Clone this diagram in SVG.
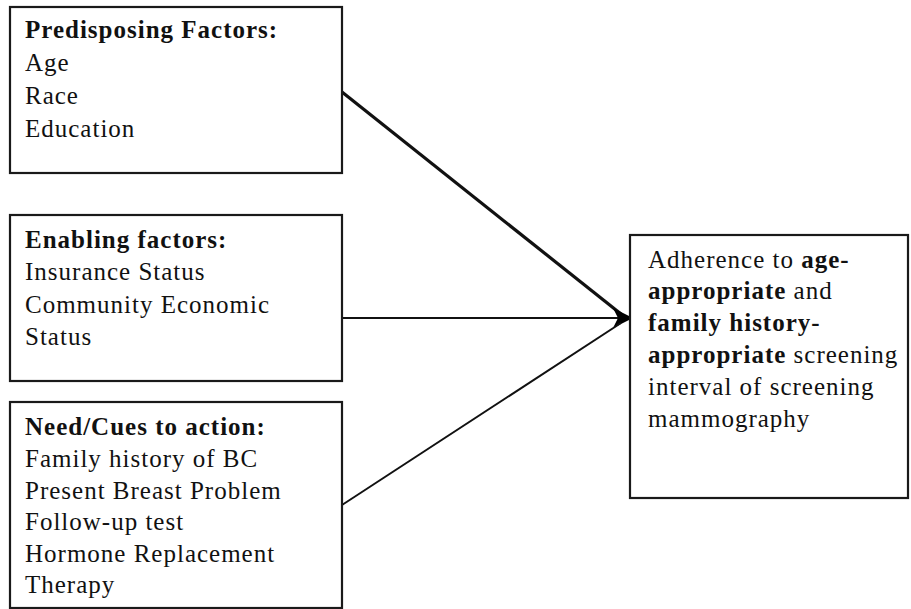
<svg xmlns="http://www.w3.org/2000/svg" width="911" height="609" viewBox="0 0 911 609">
<style>
.box{fill:#fff;stroke:#1a1a1a;stroke-width:2.2}
.t{font-family:"Liberation Serif","Times New Roman",serif;font-size:25px;letter-spacing:1px;fill:#111}
.b{font-weight:bold}
.c{stroke:#111;fill:none}
</style>
<defs>
<marker id="ah" viewBox="0 0 16 20" refX="16" refY="10" markerWidth="16" markerHeight="20" markerUnits="userSpaceOnUse" orient="auto">
<path d="M0,0 L16,8 L16,12 L0,20 L5,10 Z" fill="#000"/>
</marker>
</defs>
<rect width="911" height="609" fill="#fff"/>
<g id="connectors">
<line class="c" x1="342" y1="92" x2="621" y2="314" stroke-width="3.2"/>
<line class="c" x1="342" y1="318" x2="629" y2="318" stroke-width="2" marker-end="url(#ah)"/>
<line class="c" x1="342" y1="505" x2="621" y2="323" stroke-width="2"/>
</g>
<g id="predisposing">
<rect class="box" x="10" y="7" width="332" height="166"/>
<text class="t b" x="25" y="38">Predisposing Factors:</text>
<text class="t" x="25" y="71">Age</text>
<text class="t" x="25" y="104">Race</text>
<text class="t" x="25" y="137">Education</text>
</g>
<g id="enabling">
<rect class="box" x="10" y="215" width="332" height="166"/>
<text class="t b" x="25" y="248">Enabling factors:</text>
<text class="t" x="25" y="280">Insurance Status</text>
<text class="t" x="25" y="313">Community Economic</text>
<text class="t" x="25" y="345">Status</text>
</g>
<g id="need">
<rect class="box" x="10" y="402" width="332" height="206"/>
<text class="t b" x="25" y="435">Need/Cues to action:</text>
<text class="t" x="25" y="467">Family history of BC</text>
<text class="t" x="25" y="499">Present Breast Problem</text>
<text class="t" x="25" y="530">Follow-up test</text>
<text class="t" x="25" y="562">Hormone Replacement</text>
<text class="t" x="25" y="593">Therapy</text>
</g>
<g id="adherence">
<rect class="box" x="630" y="235" width="278" height="263"/>
<text class="t" x="648" y="268">Adherence to <tspan class="b">age-</tspan></text>
<text class="t" x="648" y="299"><tspan class="b">appropriate</tspan> and</text>
<text class="t b" x="648" y="331">family history-</text>
<text class="t" x="648" y="363"><tspan class="b">appropriate</tspan> screening</text>
<text class="t" x="648" y="395">interval of screening</text>
<text class="t" x="648" y="427">mammography</text>
</g>
</svg>
